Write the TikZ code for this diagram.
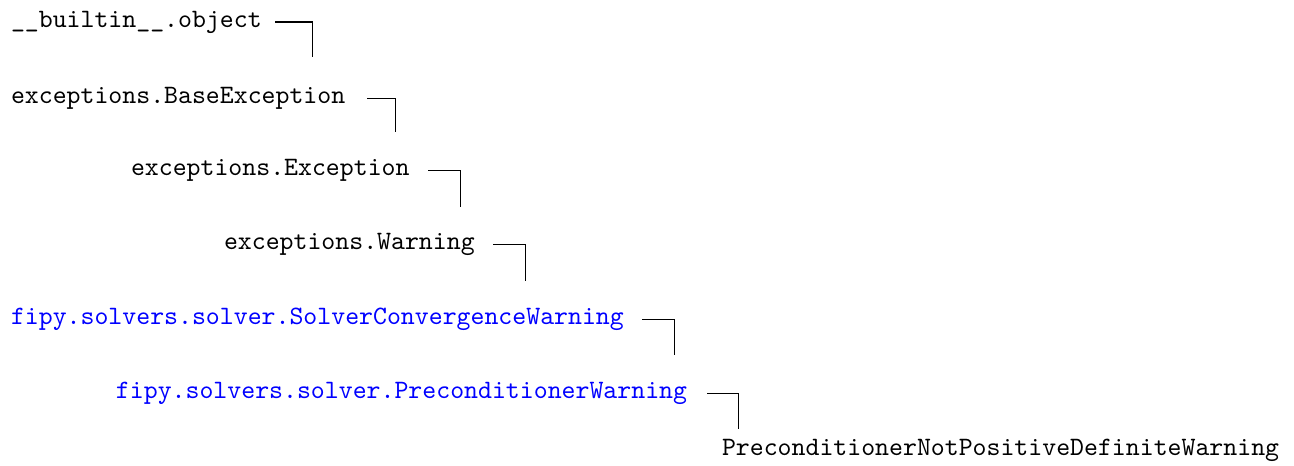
\documentclass[tikz,border=0pt]{standalone}
\begin{document}
\begin{tikzpicture}[x=0.37693pt,y=-0.37693pt,
  lbl/.style={inner sep=0pt,outer sep=0pt,anchor=mid west,font=\fontsize{10}{12}\selectfont\ttfamily},
  mod/.style={lbl,text=blue},
  elbow/.style={draw=black,line width=0.377pt}]
\useasboundingbox (0,0) rectangle (1294,466);
\node[lbl] (n1) at (11,22) {\_\_builtin\_\_.object};
\node[lbl] (n2) at (11,98) {exceptions.BaseException};
\node[lbl] (n3) at (131,170) {exceptions.Exception};
\node[lbl] (n4) at (224,244) {exceptions.Warning};
\node[mod] (n5) at (11,319) {fipy.solvers.solver.SolverConvergenceWarning};
\node[mod] (n6) at (116,393) {fipy.solvers.solver.PreconditionerWarning};
\node[lbl] (n7) at (722,450) {PreconditionerNotPositiveDefiniteWarning};
\coordinate (c1) at (312,22);
\coordinate (c2) at (395,98);
\coordinate (c3) at (460,170);
\coordinate (c4) at (525,244);
\coordinate (c5) at (674,319);
\coordinate (c6) at (738,393);
\draw[elbow] (n1.mid east -| 275,0) -- (c1) -- ++(0,35);
\draw[elbow] (n2.mid east -| 367,0) -- (c2) -- ++(0,34);
\draw[elbow] (n3.mid east -| 428,0) -- (c3) -- ++(0,37);
\draw[elbow] (n4.mid east -| 493,0) -- (c4) -- ++(0,37);
\draw[elbow] (n5.mid east -| 642,0) -- (c5) -- ++(0,36);
\draw[elbow] (n6.mid east -| 707,0) -- (c6) -- ++(0,36);
\end{tikzpicture}
\end{document}
